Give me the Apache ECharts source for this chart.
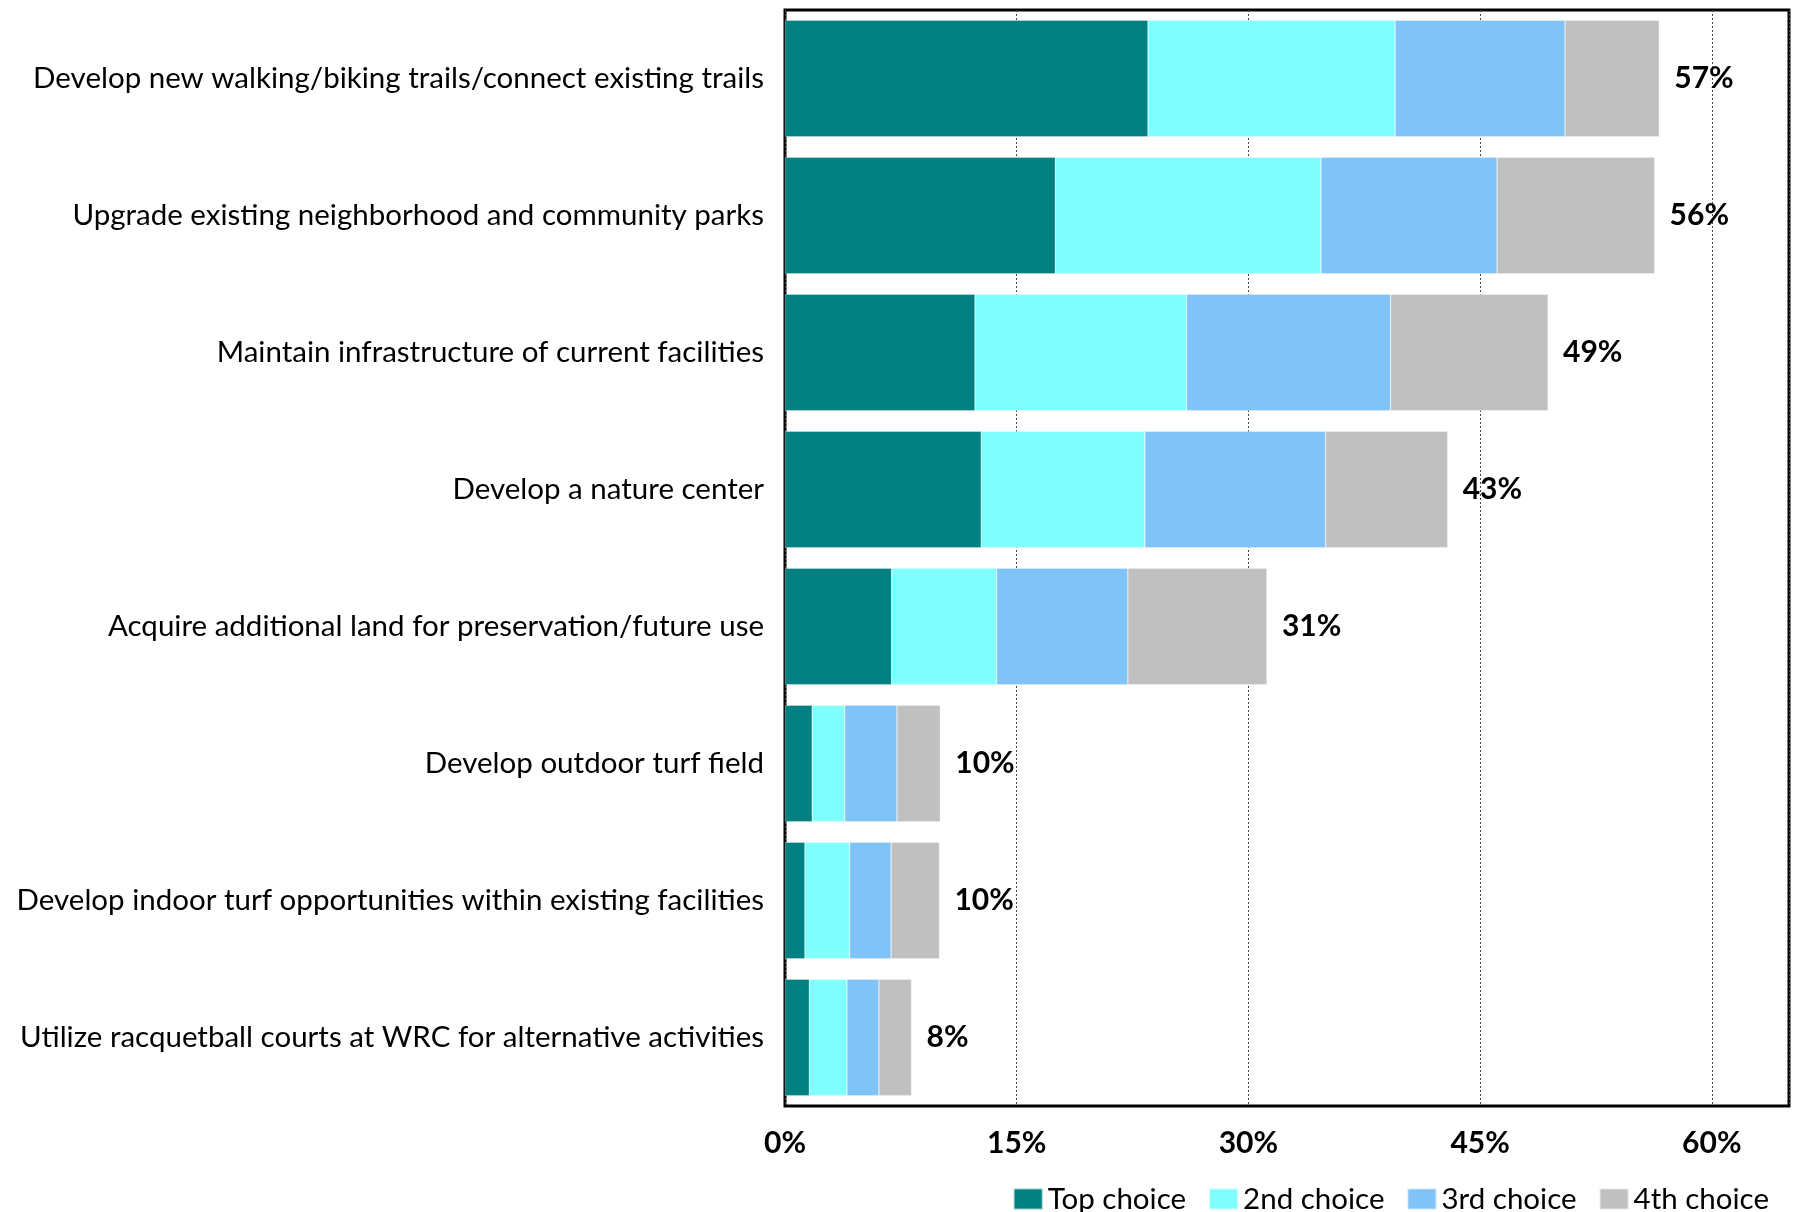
<!DOCTYPE html>
<html>
<head>
<meta charset="utf-8">
<script src="https://cdn.jsdelivr.net/npm/echarts@6/dist/echarts.min.js"></script>
<style>
html,body{margin:0;padding:0;background:#fff;}
#chart{width:1796px;height:1212px;}
</style>
</head>
<body>
<div id="chart"></div>
<script>
const categories = [
  "Develop new walking/biking trails/connect existing trails",
  "Upgrade existing neighborhood and community parks",
  "Maintain infrastructure of current facilities",
  "Develop a nature center",
  "Acquire additional land for preservation/future use",
  "Develop outdoor turf field",
  "Develop indoor turf opportunities within existing facilities",
  "Utilize racquetball courts at WRC for alternative activities"
];
const seriesNames = ["Top choice", "2nd choice", "3rd choice", "4th choice"];
const topChoice    = [23.5, 17.5, 12.3, 12.7, 6.9, 1.76, 1.29, 1.57];
const secondChoice = [16.0, 17.2, 13.7, 10.6, 6.8, 2.11, 2.89, 2.44];
const thirdChoice  = [11.0, 11.4, 13.2, 11.7, 8.5, 3.38, 2.69, 2.07];
const fourthChoice = [6.1, 10.2, 10.2, 7.9, 9.0, 2.80, 3.13, 2.11];
const totals = [57, 56, 49, 43, 31, 10, 10, 8];
const xTicks = [0, 15, 30, 45, 60];

const colors = ["#008080", "#80FFFF", "#7FC3F7", "#C0C0C0"];
const FONT = "Lato, 'Open Sans', sans-serif";

const chart = echarts.init(document.getElementById('chart'), null, {renderer: 'canvas'});
const dataSets = [topChoice, secondChoice, thirdChoice, fourthChoice];

const series = dataSets.map((d, i) => ({
  name: seriesNames[i],
  type: 'bar',
  stack: 'total',
  data: d,
  barCategoryGap: '15%',
  itemStyle: {color: colors[i], borderColor: 'rgba(255,255,255,0.6)', borderWidth: 0.5},
  label: i === 3 ? {
    show: true,
    position: 'right',
    distance: 15,
    formatter: p => totals[p.dataIndex] + '%',
    fontFamily: FONT,
    fontWeight: 'bold',
    fontSize: 30,
    color: '#000'
  } : {show: false}
}));

chart.setOption({
  animation: false,
  backgroundColor: '#fff',
  grid: {
    left: 785, right: 7, top: 10, bottom: 106,
    show: true, borderColor: '#000', borderWidth: 3, backgroundColor: 'transparent'
  },
  legend: {
    data: seriesNames,
    right: 22,
    top: 1179,
    itemWidth: 29,
    itemHeight: 21,
    itemGap: 22,
    icon: 'rect',
    textStyle: {fontFamily: FONT, fontSize: 29.5, color: '#000'}
  },
  xAxis: {
    type: 'value',
    min: xTicks[0],
    max: 65,
    interval: 15,
    axisLine: {show: false},
    axisTick: {show: false},
    splitLine: {show: true, lineStyle: {color: '#444', width: 1, type: [2, 2]}},
    axisLabel: {
      formatter: v => v + '%',
      showMaxLabel: false,
      margin: 22,
      fontFamily: FONT, fontWeight: 'bold', fontSize: 30, color: '#000'
    }
  },
  yAxis: {
    type: 'category',
    data: categories,
    inverse: true,
    axisLine: {show: false},
    axisTick: {show: false},
    splitLine: {show: false},
    axisLabel: {
      margin: 21,
      fontFamily: FONT, fontSize: 29.5, color: '#000'
    }
  },
  series: series
});
</script>
</body>
</html>
